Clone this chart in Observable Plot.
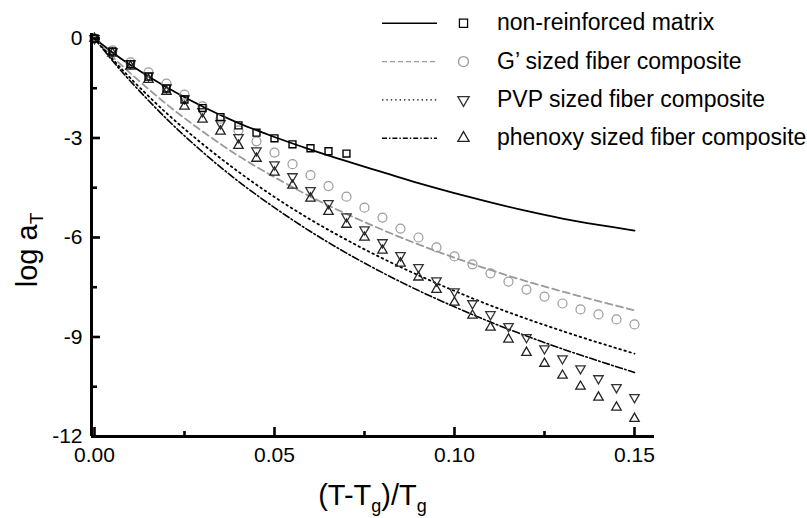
<!DOCTYPE html>
<html><head><meta charset="utf-8">
<script src="https://cdn.jsdelivr.net/npm/d3@7"></script>
<script src="https://cdn.jsdelivr.net/npm/@observablehq/plot@0.6"></script>
<style>
body{margin:0;background:#fff;}
#wrap{position:relative;width:807px;height:518px;font-family:"Liberation Sans",Arial,Helvetica,sans-serif;}
#wrap svg{position:absolute;left:0;top:0;}
</style></head><body><div id="wrap"></div>
<script>
// ---- data ----
const xs = [0,0.005,0.01,0.015,0.02,0.025,0.03,0.035,0.04,0.045,0.05,0.055,0.06,0.065,0.07,0.075,0.08,0.085,0.09,0.095,0.1,0.105,0.11,0.115,0.12,0.125,0.13,0.135,0.14,0.145,0.15];
const matrixPts = [0,-0.39,-0.78,-1.15,-1.51,-1.84,-2.1,-2.37,-2.62,-2.84,-3.01,-3.19,-3.31,-3.40,-3.47];
const gPts = [0,-0.36,-0.72,-1.02,-1.36,-1.69,-2.05,-2.42,-2.77,-3.1,-3.44,-3.79,-4.12,-4.45,-4.77,-5.1,-5.4,-5.73,-6.0,-6.3,-6.57,-6.81,-7.08,-7.33,-7.57,-7.78,-7.99,-8.17,-8.32,-8.47,-8.62];
const pvpPts = [0,-0.39,-0.75,-1.12,-1.48,-1.81,-2.2,-2.56,-2.98,-3.38,-3.80,-4.16,-4.58,-4.97,-5.37,-5.76,-6.15,-6.54,-6.90,-7.30,-7.63,-7.99,-8.32,-8.68,-9.01,-9.35,-9.65,-9.95,-10.25,-10.52,-10.82];
const phenoxyPts = [0,-0.45,-0.84,-1.24,-1.6,-2.05,-2.44,-2.80,-3.23,-3.62,-4.04,-4.43,-4.82,-5.22,-5.61,-6.0,-6.39,-6.78,-7.2,-7.57,-7.96,-8.35,-8.71,-9.07,-9.47,-9.80,-10.16,-10.49,-10.82,-11.12,-11.46];

const fitX = [0,0.005,0.01,0.02,0.03,0.04,0.05,0.06,0.07,0.08,0.09,0.1,0.11,0.12,0.13,0.14,0.15];
const matrixFit = [0,-0.42,-0.8,-1.47,-2.05,-2.55,-2.97,-3.35,-3.7,-4.03,-4.36,-4.66,-4.94,-5.2,-5.43,-5.62,-5.79];
const gFit = [0,-0.55,-1.05,-1.98,-2.8,-3.54,-4.18,-4.77,-5.29,-5.77,-6.21,-6.61,-6.98,-7.32,-7.63,-7.92,-8.2];
const pvpFit = [0,-0.62,-1.2,-2.25,-3.18,-4.02,-4.78,-5.46,-6.07,-6.63,-7.14,-7.61,-8.05,-8.45,-8.82,-9.17,-9.5];
const phenoxyFit = [0,-0.67,-1.29,-2.42,-3.42,-4.31,-5.1,-5.82,-6.47,-7.06,-7.6,-8.09,-8.55,-8.97,-9.36,-9.72,-10.07];

const seriesNames = ["non-reinforced matrix","G\u2019 sized fiber composite","PVP sized fiber composite","phenoxy sized fiber composite"];

const xTicks = [0,0.05,0.1,0.15];
const xTickLabels = ["0.00","0.05","0.10","0.15"];
const xMinor = [0.025,0.075,0.125];
const yTicks = [0,-3,-6,-9,-12];
const yTickLabels = ["0","-3","-6","-9","-12"];
const yMinor = [-1.5,-4.5,-7.5,-10.5];

// ---- build tables ----
const pts = (arr) => arr.map((v,i) => ({x: xs[i], y: v}));
const fit = (arr) => arr.map((v,i) => ({x: fitX[i], y: v}));

const triangleDown = {
  draw(context, size) {
    const y = -Math.sqrt(size / (3 * Math.sqrt(3)));
    context.moveTo(0, -y * 2);
    context.lineTo(-Math.sqrt(3) * y, y);
    context.lineTo(Math.sqrt(3) * y, y);
    context.closePath();
  }
};

const FONT = '"Liberation Sans", Arial, Helvetica, sans-serif';
const grey = "#9a9a9a";
const xDomain = [-0.00083, 0.15556];
const yDomain = [-12, 0.15];

const chart = Plot.plot({
  width: 807, height: 518,
  marginLeft: 91, marginRight: 153, marginTop: 33, marginBottom: 82,
  style: {fontFamily: FONT, background: "white"},
  x: {domain: xDomain, axis: null},
  y: {domain: yDomain, axis: null},
  marks: [
    // fitted curves
    Plot.line(fit(matrixFit), {x: "x", y: "y", stroke: "#000", strokeWidth: 1.8, curve: "catmull-rom"}),
    Plot.line(fit(gFit), {x: "x", y: "y", stroke: grey, strokeWidth: 1.8, strokeDasharray: "7,4", curve: "catmull-rom"}),
    Plot.line(fit(pvpFit), {x: "x", y: "y", stroke: "#000", strokeWidth: 1.8, strokeDasharray: "1.6,3.6", curve: "catmull-rom"}),
    Plot.line(fit(phenoxyFit), {x: "x", y: "y", stroke: "#000", strokeWidth: 1.6, strokeDasharray: "7,2.5,1.6,2.5", curve: "catmull-rom"}),
    // data markers
    Plot.dot(pts(gPts), {x: "x", y: "y", symbol: "circle", r: 4.5, stroke: grey, strokeWidth: 1.2, fill: "none"}),
    Plot.dot(pts(pvpPts), {x: "x", y: "y", symbol: triangleDown, r: 3.5, stroke: "#333", strokeWidth: 1.3, fill: "none"}),
    Plot.dot(pts(phenoxyPts), {x: "x", y: "y", symbol: "triangle", r: 3.5, stroke: "#222", strokeWidth: 1.3, fill: "none"}),
    Plot.dot(pts(matrixPts), {x: "x", y: "y", symbol: "square", r: 3.9, stroke: "#000", strokeWidth: 1.4, fill: "none"}),
    // axis lines
    Plot.ruleX([xDomain[0]], {stroke: "#000", strokeWidth: 3}),
    Plot.ruleY([yDomain[0]], {stroke: "#000", strokeWidth: 2.8}),
    // ticks (inward)
    Plot.axisX(xTicks, {anchor: "bottom", tickSize: -9, strokeWidth: 2.6, text: null, label: null}),
    Plot.axisX(xMinor, {anchor: "bottom", tickSize: -5, strokeWidth: 2.6, text: null, label: null}),
    Plot.axisY(yTicks, {anchor: "left", tickSize: -9, strokeWidth: 2.6, text: null, label: null}),
    Plot.axisY(yMinor, {anchor: "left", tickSize: -6, strokeWidth: 2.6, text: null, label: null}),
    // tick labels
    Plot.axisX(xTicks, {anchor: "bottom", tickSize: 0, tickPadding: 11, fontSize: 21, fill: "#000",
      tickFormat: (d) => xTickLabels[xTicks.indexOf(d)], label: null}),
    Plot.axisY(yTicks, {anchor: "left", tickSize: 0, tickPadding: 9, fontSize: 21, fill: "#000",
      tickFormat: (d) => yTickLabels[yTicks.indexOf(d)], label: null})
  ]
});

const wrap = document.getElementById("wrap");
wrap.appendChild(chart);

// axis titles
const svg = d3.select(chart);
const xt = svg.append("text").attr("x", 372.5).attr("y", 505).attr("text-anchor", "middle")
  .attr("font-family", FONT).attr("font-size", 29).attr("fill", "#000");
xt.append("tspan").text("(T-T");
xt.append("tspan").attr("font-size", 18).attr("dy", 7).text("g");
xt.append("tspan").attr("dy", -7).text(")/T");
xt.append("tspan").attr("font-size", 18).attr("dy", 7).text("g");

const yt = svg.append("text").attr("transform", "translate(37,250) rotate(-90)").attr("text-anchor", "middle")
  .attr("font-family", FONT).attr("font-size", 29).attr("fill", "#000");
yt.append("tspan").text("log a");
yt.append("tspan").attr("font-size", 19).attr("dy", 6).text("T");

// legend
const leg = d3.select(wrap).append("svg").attr("width", 807).attr("height", 518)
  .style("pointer-events", "none");
const legStyles = [
  {stroke: "#000", dash: null, sw: 1.6, sym: d3.symbolSquare, mstroke: "#000", r: 4.6},
  {stroke: grey, dash: "5,3", sw: 1.4, sym: d3.symbolCircle, mstroke: grey, r: 5},
  {stroke: "#000", dash: "1.4,3", sw: 1.4, sym: triangleDown, mstroke: "#333", r: 4.2},
  {stroke: "#000", dash: "5,2,1.4,2", sw: 1.4, sym: d3.symbolTriangle, mstroke: "#222", r: 4.2}
];
const rowY = [23.3, 61.6, 99.9, 138.2];
seriesNames.forEach((name, i) => {
  const s = legStyles[i], y = rowY[i];
  leg.append("line").attr("x1", 382).attr("x2", 437).attr("y1", y).attr("y2", y)
    .attr("stroke", s.stroke).attr("stroke-width", s.sw).attr("stroke-dasharray", s.dash);
  leg.append("path").attr("transform", `translate(463.5,${y})`)
    .attr("d", d3.symbol(s.sym, Math.PI * s.r * s.r)())
    .attr("fill", "none").attr("stroke", s.mstroke).attr("stroke-width", 1.3);
  leg.append("text").attr("x", 497).attr("y", y + 7).attr("font-family", FONT)
    .attr("font-size", 23).attr("fill", "#000").text(name);
});
</script>
</body></html>
